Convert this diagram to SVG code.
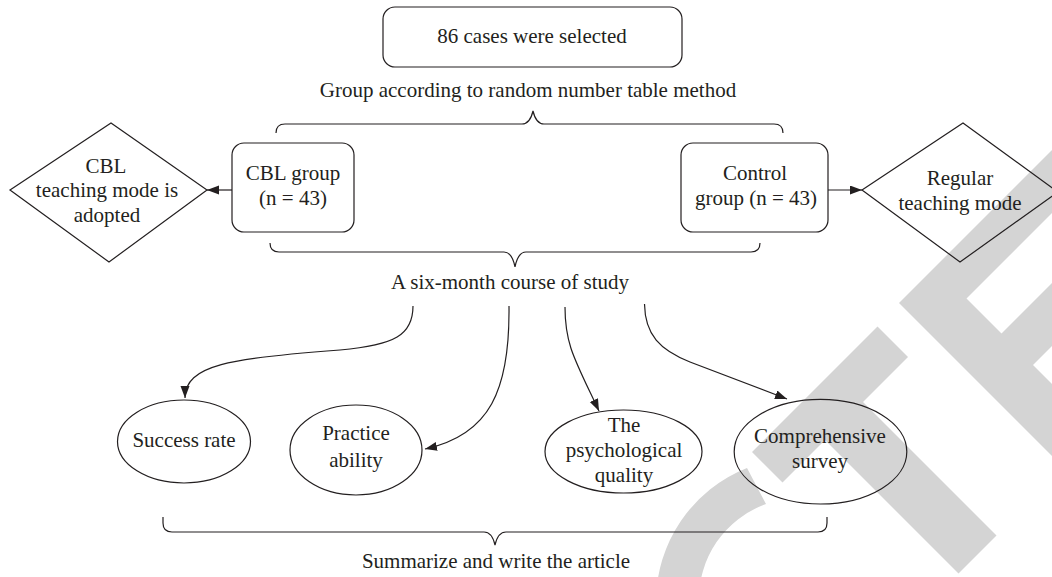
<svg xmlns="http://www.w3.org/2000/svg" width="1052" height="577" viewBox="0 0 1052 577">
<style>
.wm{fill:#d4d4d4;stroke:none}
.box{fill:none;stroke:#231f20;stroke-width:1.2}
.ln{fill:none;stroke:#231f20;stroke-width:1.2}
.t{font-family:"Liberation Serif","Times New Roman",serif;font-size:21px;fill:#231f20;text-anchor:middle}
</style>
<defs>
<marker id="ah" markerUnits="userSpaceOnUse" markerWidth="14" markerHeight="10" refX="12" refY="4.5" orient="auto">
<path d="M0,0 L12,4.5 L0,9 Z" fill="#231f20"/>
</marker>
</defs>
<rect width="1052" height="577" fill="#ffffff"/>
<g id="watermark">
<path class="wm" d="M747,468 A144,144 0 0 0 656,602 L699,602 A101,101 0 0 1 766,504 Z"/>
<polygon class="wm" points="877.5,326.5 752,452 782.5,482.5 825,440 958.5,573.5 996.5,535.5 863,402 908,357"/>
<polygon class="wm" points="899,303 1151,51 1182.5,82.5 966.5,298.5 1001.5,333.5 1217.5,117.5 1249,149 1033,365 1067.5,399.5 1283.5,183.5 1315,215 1063,467"/>
</g>
<g id="connectors">
<path class="ln" d="M276,133 Q276,124 285,124 L522,124 Q530,124 533,111 Q536,124 544,124 L774,124 Q783,124 783,133"/>
<path class="ln" d="M270,243 Q270,252 279,252 L504,252 Q512,252 515,267 Q518,252 526,252 L751,252 Q760,252 760,243"/>
<path class="ln" d="M163,517 L163,523 Q163,532 172,532 L484,532 Q492,532 495,545 Q498,532 506,532 L818,532 Q827,532 827,523 L827,517"/>
<line class="ln" x1="232" y1="190" x2="207" y2="190" marker-end="url(#ah)"/>
<line class="ln" x1="828" y1="190" x2="862" y2="190" marker-end="url(#ah)"/>
<path class="ln" d="M413,306 C413,335 395,345 340,350 C230,358 185,365 185,398" marker-end="url(#ah)"/>
<path class="ln" d="M509,306 C510,390 490,435 425,449" marker-end="url(#ah)"/>
<path class="ln" d="M565,307 C565,345 575,360 599,411" marker-end="url(#ah)"/>
<path class="ln" d="M644.5,304 C645,335 660,350 690,362 L787,399" marker-end="url(#ah)"/>
</g>
<g id="n-selected">
<rect class="box" x="383" y="7" width="299" height="60" rx="12"/>
<text class="t" x="532" y="43">86 cases were selected</text>
</g>
<g id="l-group">
<text class="t" x="528" y="97">Group according to random number table method</text>
</g>
<g id="n-cbl">
<rect class="box" x="232" y="143" width="122" height="89" rx="12"/>
<text class="t" x="293" y="180">CBL group</text>
<text class="t" x="293" y="205">(n = 43)</text>
</g>
<g id="n-control">
<rect class="box" x="681" y="143" width="147" height="89" rx="12"/>
<text class="t" x="755" y="180">Control</text>
<text class="t" x="756" y="205">group (n = 43)</text>
</g>
<g id="n-cblmode">
<polygon class="box" points="10,190 111,123 207,190 109,262"/>
<text class="t" x="106" y="173">CBL</text>
<text class="t" x="107" y="197">teaching mode is</text>
<text class="t" x="107" y="222">adopted</text>
</g>
<g id="n-regular">
<polygon class="box" points="862,190 963,123 1058,192 960,262"/>
<text class="t" x="960" y="185">Regular</text>
<text class="t" x="960" y="210">teaching mode</text>
</g>
<g id="l-course">
<text class="t" x="510" y="289">A six-month course of study</text>
</g>
<g id="n-success">
<ellipse class="box" cx="184" cy="441.5" rx="66.5" ry="41.5"/>
<text class="t" x="184" y="447">Success rate</text>
</g>
<g id="n-practice">
<ellipse class="box" cx="356" cy="450" rx="66" ry="45"/>
<text class="t" x="356" y="440">Practice</text>
<text class="t" x="356" y="467">ability</text>
</g>
<g id="n-psych">
<ellipse class="box" cx="623.5" cy="451.5" rx="78.5" ry="41.5"/>
<text class="t" x="624" y="432">The</text>
<text class="t" x="624" y="457">psychological</text>
<text class="t" x="624" y="482">quality</text>
</g>
<g id="n-comprehensive">
<ellipse class="box" cx="820.5" cy="451.7" rx="86.3" ry="52.3"/>
<text class="t" x="820" y="443">Comprehensive</text>
<text class="t" x="820" y="468">survey</text>
</g>
<g id="l-summarize">
<text class="t" x="496" y="568">Summarize and write the article</text>
</g>
</svg>
